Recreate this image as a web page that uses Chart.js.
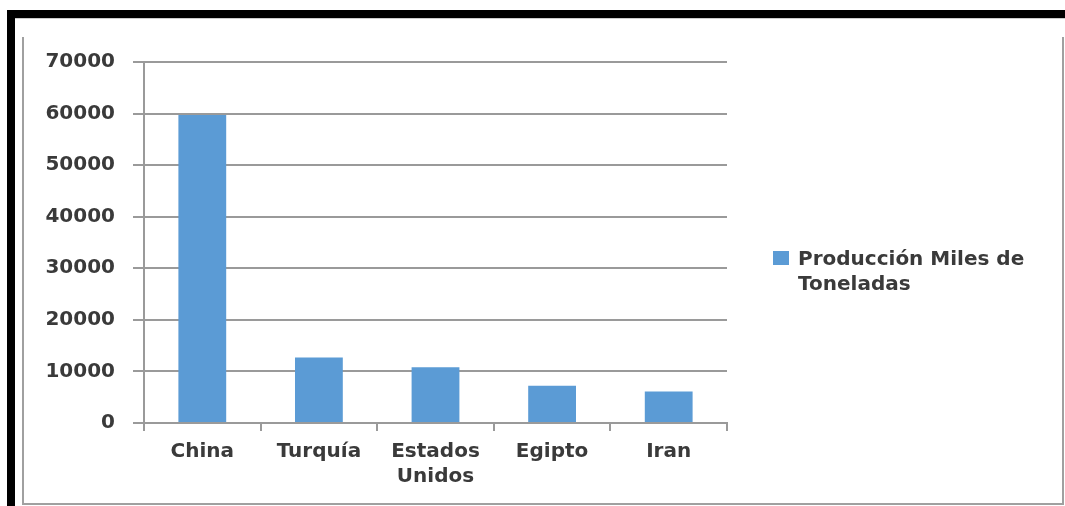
<!DOCTYPE html>
<html>
<head>
<meta charset="utf-8">
<script src="https://cdn.jsdelivr.net/npm/chart.js@4.4.1/dist/chart.umd.min.js"></script>
<style>
  html, body { margin: 0; padding: 0; background: #fff; }
  #wrap { position: relative; width: 1065px; height: 506px; overflow: hidden; }
  #chart { position: absolute; left: 0; top: 0; }
  .bar { position: absolute; pointer-events: none; }
</style>
</head>
<body>
<div id="wrap">
  <canvas id="chart" width="1065" height="506"></canvas>
  <!-- outer black frame -->
  <div class="bar" style="left:7px;top:10px;width:1058px;height:8px;background:#000"></div>
  <div class="bar" style="left:7px;top:18px;width:1058px;height:1px;background:#ccc"></div>
  <div class="bar" style="left:7px;top:10px;width:8px;height:496px;background:#000"></div>
  <!-- inner grey frame -->
  <div class="bar" style="left:22px;top:37px;width:2px;height:468px;background:#a0a0a0"></div>
  <div class="bar" style="left:1062px;top:37px;width:2px;height:468px;background:#a0a0a0"></div>
  <div class="bar" style="left:22px;top:503px;width:1042px;height:2px;background:#a0a0a0"></div>
</div>
<script>
const paises = ['China', 'Turquía', ['Estados', 'Unidos'], 'Egipto', 'Iran'];
const produccion = [59700, 12700, 10800, 7200, 6100];
const serieNombre = 'Producción Miles de Toneladas';
const legendLines = ['Producción Miles de', 'Toneladas'];

const textColor = '#3a3a3a';
const lineColor = '#9a9a9a';
const barColor = '#5b9bd5';
const font = { family: 'DejaVu Sans', size: 20, weight: 'bold', lineHeight: 1.25 };

// legend drawn by hand so the label can wrap like the original
const sideLegend = {
  id: 'sideLegend',
  afterDraw(chart) {
    const ctx = chart.ctx;
    const ds = chart.data.datasets[0];
    ctx.save();
    ctx.fillStyle = ds.backgroundColor;
    ctx.fillRect(773, 251, 16, 14);
    ctx.fillStyle = textColor;
    ctx.font = 'bold 20px "DejaVu Sans"';
    ctx.textBaseline = 'alphabetic';
    ctx.textAlign = 'left';
    legendLines.forEach((t, i) => ctx.fillText(t, 798, 265 + i * 25));
    ctx.restore();
  }
};

new Chart(document.getElementById('chart'), {
  type: 'bar',
  data: {
    labels: paises,
    datasets: [{
      label: serieNombre,
      data: produccion,
      backgroundColor: barColor,
      borderWidth: 0,
      barPercentage: 0.41,
      categoryPercentage: 1
    }]
  },
  options: {
    responsive: false,
    animation: false,
    layout: { padding: { top: 62, right: 338, left: 0, bottom: 0 } },
    plugins: {
      legend: { display: false },
      tooltip: { enabled: false }
    },
    scales: {
      x: {
        offset: true,
        grid: {
          offset: true,
          drawOnChartArea: false,
          drawTicks: true,
          tickLength: 8,
          color: lineColor,
          lineWidth: 2
        },
        border: { color: lineColor, width: 2 },
        ticks: { color: textColor, font: font, padding: 8, maxRotation: 0, autoSkip: false },
        afterFit(s) { s.height = 83; }
      },
      y: {
        min: 0,
        max: 70000,
        grid: { color: lineColor, lineWidth: 2, tickLength: 11 },
        border: { color: lineColor, width: 2 },
        ticks: {
          stepSize: 10000,
          color: textColor,
          font: font,
          padding: 18,
          callback: v => String(v)
        },
        afterFit(s) { s.width = 144; }
      }
    }
  },
  plugins: [sideLegend]
});
</script>
</body>
</html>
